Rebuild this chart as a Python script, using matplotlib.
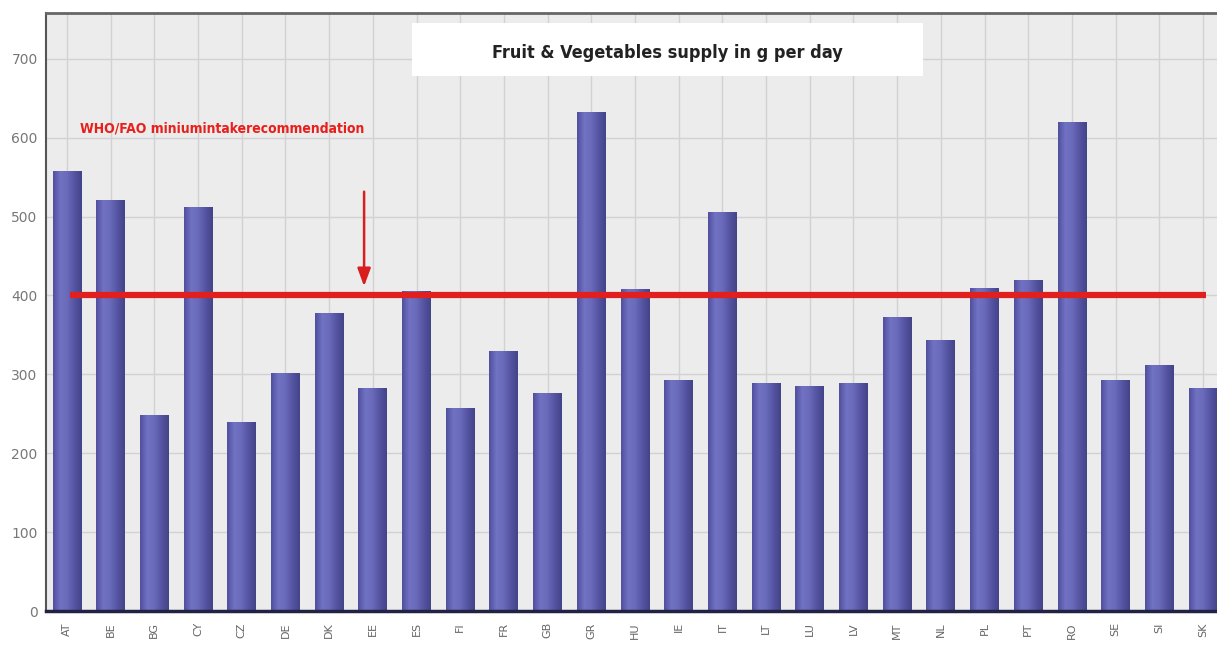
import numpy as np
import matplotlib
matplotlib.use('Agg')
import matplotlib.pyplot as plt
from matplotlib.colors import LinearSegmentedColormap
from matplotlib.patches import Rectangle

countries = ['AT', 'BE', 'BG', 'CY', 'CZ', 'DE', 'DK', 'EE', 'ES', 'FI', 'FR', 'GB', 'GR', 'HU',
             'IE', 'IT', 'LT', 'LU', 'LV', 'MT', 'NL', 'PL', 'PT', 'RO', 'SE', 'SI', 'SK']
supply = [558, 521, 248, 512, 240, 302, 378, 283, 405, 257, 330, 276, 633, 408,
          293, 506, 289, 285, 289, 373, 344, 410, 419, 620, 293, 312, 283]
who_min = 400
who_label = 'WHO/FAO miniumintakerecommendation'
title = 'Fruit & Vegetables supply in g per day'

fig = plt.figure(figsize=(12.17, 6.48), dpi=100)
ax = fig.add_axes([0.0378, 0.057, 0.9622, 0.923])
ax.set_facecolor('#ececec')

x = np.arange(len(countries))
bars = ax.bar(x, supply, width=0.66, color='#5c5cab', zorder=2)

# horizontal shading on each bar, like the original 3d-ish look
grad_cmap = LinearSegmentedColormap.from_list(
    'bar', ['#50509e', '#7272c4', '#6a6aba', '#5454a2', '#444489'])
grad = np.linspace(0, 1, 64).reshape(1, -1)
for b in bars:
    x0, w, h = b.get_x(), b.get_width(), b.get_height()
    im = ax.imshow(grad, cmap=grad_cmap, extent=[x0, x0 + w, 0, h],
                   aspect='auto', zorder=2.1, interpolation='bilinear')
    im.set_clip_path(b)

ax.set_xlim(-0.48, 26.32)
ax.set_ylim(0, 758)

# recommendation line and arrow
ax.plot([0.07, len(countries) - 0.93], [who_min, who_min], color='#e0201e', lw=4.5,
        zorder=3, solid_capstyle='butt')
ax.annotate('', xy=(6.8, who_min + 8), xytext=(6.8, 535),
            arrowprops=dict(arrowstyle='-|>,head_width=0.22,head_length=0.6', color='#d81e1e',
                            lw=1.8, mutation_scale=18), zorder=4)
ax.text(0.3, 611, who_label, color='#e8201c', fontsize=10, fontweight='bold',
        ha='left', va='center', zorder=4, family='DejaVu Sans', stretch='condensed')

# title box
ax.add_patch(Rectangle((7.9, 678), 11.7, 67, facecolor='white', edgecolor='none', zorder=5))
ax.text(13.75, 707, title, ha='center', va='center', fontsize=13, fontweight='bold',
        color='#222222', zorder=6, stretch='condensed')

ax.set_xticks(x)
ax.set_xticklabels(countries, rotation=90, fontsize=8, color='#666666')
ax.set_yticks(np.arange(0, 701, 100))
ax.tick_params(axis='y', labelsize=10, colors='#777777', length=0, pad=6)
ax.tick_params(axis='x', length=0, pad=8)
ax.grid(True, color='#d2d2d2', lw=1, zorder=1)
ax.set_axisbelow(True)

ax.spines['right'].set_visible(False)
ax.spines['left'].set_color('#555555')
ax.spines['left'].set_linewidth(1.5)
ax.spines['top'].set_color('#666666')
ax.spines['top'].set_linewidth(2)
ax.spines['bottom'].set_color('#222244')
ax.spines['bottom'].set_linewidth(2.5)

fig.savefig('out.png', dpi=100)
